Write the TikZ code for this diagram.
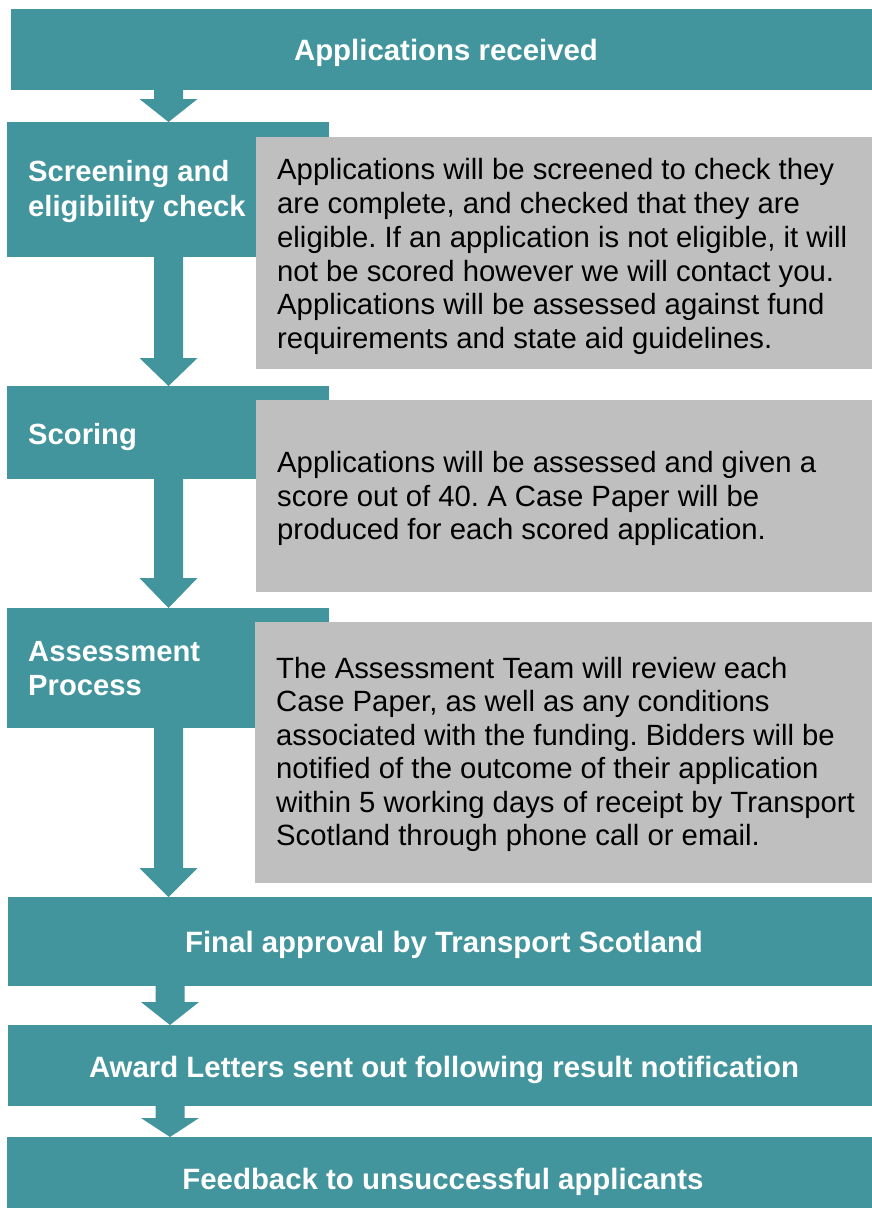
\documentclass[tikz,border=0pt]{standalone}
\usepackage{fontspec}
\setmainfont{Liberation Sans}
\usetikzlibrary{calc}
\definecolor{tealbox}{RGB}{66,149,157}
\definecolor{graybox}{RGB}{191,191,191}
\tikzset{
  box/.style={fill=tealbox, draw=none, inner sep=0pt, outer sep=0pt, anchor=north west},
  note/.style={fill=graybox, draw=none, inner sep=0pt, outer sep=0pt, anchor=north west},
  ctitle/.style={text=white, font=\fontsize{29.4}{34.5}\selectfont\bfseries, inner sep=0pt, anchor=base},
  ltitle/.style={text=white, font=\fontsize{29.2}{35}\selectfont\bfseries, inner sep=0pt, anchor=north west, align=left},
  gtext/.style={text=black, font=\fontsize{29.3}{33.8}\selectfont, inner sep=0pt, anchor=north west, align=left},
}
\newcommand\blockarrow[4]{%
  \fill[tealbox] let \p1=(#2.south), \p2=(#3.north) in
    (#1pt-14.5pt,\y1) -- (#1pt+14.5pt,\y1) -- (#1pt+14.5pt,\y2+#4pt) --
    (#1pt+29pt,\y2+#4pt) -- (#1pt,\y2) -- (#1pt-29pt,\y2+#4pt) --
    (#1pt-14.5pt,\y2+#4pt) -- cycle;}
\newcommand\fl{\rule{0pt}{22pt}}
\frenchspacing
\begin{document}
\begin{tikzpicture}[x=1pt,y=1pt]
\useasboundingbox (0,0) rectangle (872,-1208);
% teal boxes
\node[box, minimum width=861pt, minimum height=81pt] (recv) at (11,-9) {};
\node[box, minimum width=322pt, minimum height=135pt] (screen) at (7,-122) {};
\node[box, minimum width=322pt, minimum height=93pt] (score) at (7,-386) {};
\node[box, minimum width=322pt, minimum height=120pt] (assess) at (7,-608) {};
\node[box, minimum width=864pt, minimum height=89pt] (final) at (8,-897) {};
\node[box, minimum width=864pt, minimum height=81pt] (award) at (8,-1025) {};
\node[box, minimum width=865pt, minimum height=71pt] (feedback) at (7,-1137) {};
% block arrows
\blockarrow{168.5}{recv}{screen}{23}
\blockarrow{168.5}{screen}{score}{28}
\blockarrow{168.5}{score}{assess}{30}
\blockarrow{168.5}{assess}{final}{29}
\blockarrow{170}{final}{award}{23}
\blockarrow{170}{award}{feedback}{19}
% grey notes
\node[note, minimum width=616pt, minimum height=232pt] (g1) at (256,-137) {};
\node[note, minimum width=616pt, minimum height=192pt] (g2) at (256,-400) {};
\node[note, minimum width=617pt, minimum height=261pt] (g3) at (255,-622) {};
% titles
\node[ctitle] (trecv) at (446,-60) {Applications received};
\node[ltitle] (tscreen) at (28,-159.7) {\fl Screening and\\eligibility check};
\node[ltitle, anchor=base west] (tscore) at (28,-444) {Scoring};
\node[ltitle, font=\fontsize{29.2}{34}\selectfont\bfseries] (tassess) at (28,-639.7) {\fl Assessment\\Process};
\node[ctitle] (tfinal) at (444,-952) {Final approval by Transport Scotland};
\node[ctitle] (taward) at (444,-1077) {Award Letters sent out following result notification};
\node[ctitle] (tfeed) at (443,-1189) {Feedback to unsuccessful applicants};
% note texts
\node[gtext] (n1) at (277,-157.5) {\fl Applications will be screened to check they\\are complete, and checked that they are\\eligible. If an application is not eligible, it will\\not be scored however we will contact you.\\Applications will be assessed against fund\\requirements and state aid guidelines.};
\node[gtext, font=\fontsize{29.3}{33.4}\selectfont] (n2) at (277,-450.7) {\fl Applications will be assessed and given a\\score out of 40. A Case Paper will be\\produced for each scored application.};
\node[gtext, font=\fontsize{29.3}{33.4}\selectfont] (n3) at (276,-656.3) {\fl The Assessment Team will review each\\Case Paper, as well as any conditions\\associated with the funding. Bidders will be\\notified of the outcome of their application\\within 5 working days of receipt by Transport\\Scotland through phone call or email.};
\end{tikzpicture}
\end{document}
